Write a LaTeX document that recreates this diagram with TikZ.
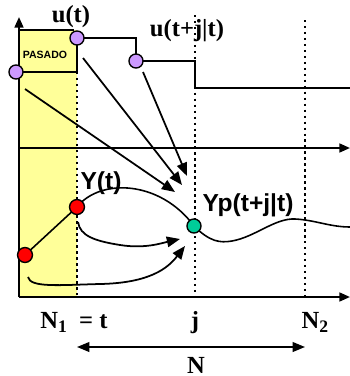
\documentclass[tikz,border=0pt]{standalone}
\usepackage{fontspec}
\setmainfont{Liberation Serif}
\newfontfamily\arialfont{Liberation Sans}
\usetikzlibrary{arrows.meta}

\definecolor{pastyellow}{HTML}{FFFF99}
\definecolor{dotviolet}{HTML}{CC99FF}
\definecolor{dotgreen}{HTML}{00CC99}

\tikzset{
  inputdot/.style={circle,draw,line width=0.8pt,fill=dotviolet,inner sep=0pt,minimum size=8pt},
  outdot/.style={circle,draw,line width=0.8pt,fill=red,inner sep=0pt,minimum size=8.5pt},
  preddot/.style={circle,draw,line width=0.8pt,fill=dotgreen,inner sep=0pt,minimum size=8pt},
  axisline/.style={line width=1.2pt,-{Triangle[length=6pt,width=5pt]}},
  timeline/.style={line width=1.4pt,dotted},
  infl/.style={line width=1pt,-{Triangle[length=7.5pt,width=6pt]}},
  serlabel/.style={font=\fontsize{14}{14}\selectfont\bfseries,inner sep=0pt},
  sanslabel/.style={font=\arialfont\fontsize{14}{14}\selectfont\bfseries,inner sep=0pt}
}

\begin{document}
\begin{tikzpicture}[x=0.02cm,y=-0.02cm,line width=1.1pt]
  \useasboundingbox (0,0) rectangle (350,376);
  % past region
  \fill[pastyellow] (19,30) rectangle (77,297);
  \node[font=\arialfont\fontsize{6}{6}\selectfont\bfseries,inner sep=0pt] (pasado) at (45,55) {PASADO};
  % points of the picture
  \coordinate (upast) at (16,72);
  \coordinate (unow) at (77,38);
  \coordinate (ufut) at (136,61);
  \coordinate (yold) at (25,255);
  \coordinate (ynow) at (77,207);
  \coordinate (ypred) at (194,226);
  % axes
  \draw[axisline] (19,297) -- (19,17);
  \draw[axisline] (19,297) -- (350,297);
  \draw[axisline] (19,148) -- (350,148);
  % time instants
  \draw[timeline] (77,72) -- (77,297);
  \draw[timeline] (195,15) -- (195,297);
  \draw[timeline] (305,20) -- (305,297);
  % control input
  \draw (19,30) -- (74,30);
  \draw (upast) -- (77,72) -- (unow) -- (136,38) -- (ufut) -- (195,61) -- (195,88) -- (350,88);
  % output and prediction
  \draw[line width=0.9pt] (yold) -- (ynow);
  \draw[line width=0.9pt] (ynow) .. controls (100,178) and (160,180) .. (ypred)
    .. controls (210,242) and (220,243) .. (232,241)
    .. controls (255,237) and (275,218) .. (295,219)
    .. controls (315,220) and (330,227) .. (350,227);
  % influences on the prediction
  \coordinate (fromupast) at (25,89);
  \coordinate (fromunow) at (83,58);
  \coordinate (fromufut) at (143,72);
  \coordinate (fromynow) at (78,222);
  \coordinate (fromyold) at (28,277);
  \coordinate (tipupast) at (175,192);
  \coordinate (tipunow) at (182,185);
  \coordinate (tipufut) at (187,176);
  \coordinate (tipynow) at (180,239);
  \coordinate (tipyold) at (185,246);
  \draw[infl] (fromupast) -- (tipupast);
  \draw[infl] (fromunow) -- (tipunow);
  \draw[infl] (fromufut) -- (tipufut);
  \draw[infl] (fromynow) .. controls (80,236) and (95,241) .. (120,245)
    .. controls (145,249) and (162,243) .. (tipynow);
  \draw[infl] (fromyold) .. controls (30,288) and (60,285) .. (100,284)
    .. controls (150,283) and (168,268) .. (tipyold);
  % dots
  \node[inputdot] (upastdot) at (upast) {};
  \node[inputdot] (unowdot) at (unow) {};
  \node[inputdot] (ufutdot) at (ufut) {};
  \node[outdot] (yolddot) at (yold) {};
  \node[outdot] (ynowdot) at (ynow) {};
  \node[preddot] (ypreddot) at (ypred) {};
  % labels
  \node[serlabel] (ulab) at (71,17) {u(t)};
  \node[serlabel] (uflab) at (187,31) {u(t+j|t)};
  \node[sanslabel] (ylab) at (101,183) {Y(t)};
  \node[sanslabel] (yplab) at (248,205) {Yp(t+j|t)};
  \node[serlabel,anchor=base] (nonelab) at (74,328) {N\raisebox{-0.4ex}{\fontsize{10}{10}\selectfont 1}\ \ = t};
  \node[serlabel,anchor=base] (jlab) at (195,328) {j};
  \node[serlabel,anchor=base] (ntwolab) at (315,328) {N\raisebox{-0.4ex}{\fontsize{10}{10}\selectfont 2}};
  % horizon
  \coordinate (hstart) at (77,347);
  \coordinate (hend) at (305,347);
  \draw[line width=1pt,{Triangle[length=7pt,width=5.5pt]}-{Triangle[length=7pt,width=5.5pt]}] (hstart) -- (hend);
  \node[serlabel] (nlab) at (196,365) {N};
\end{tikzpicture}
\end{document}
